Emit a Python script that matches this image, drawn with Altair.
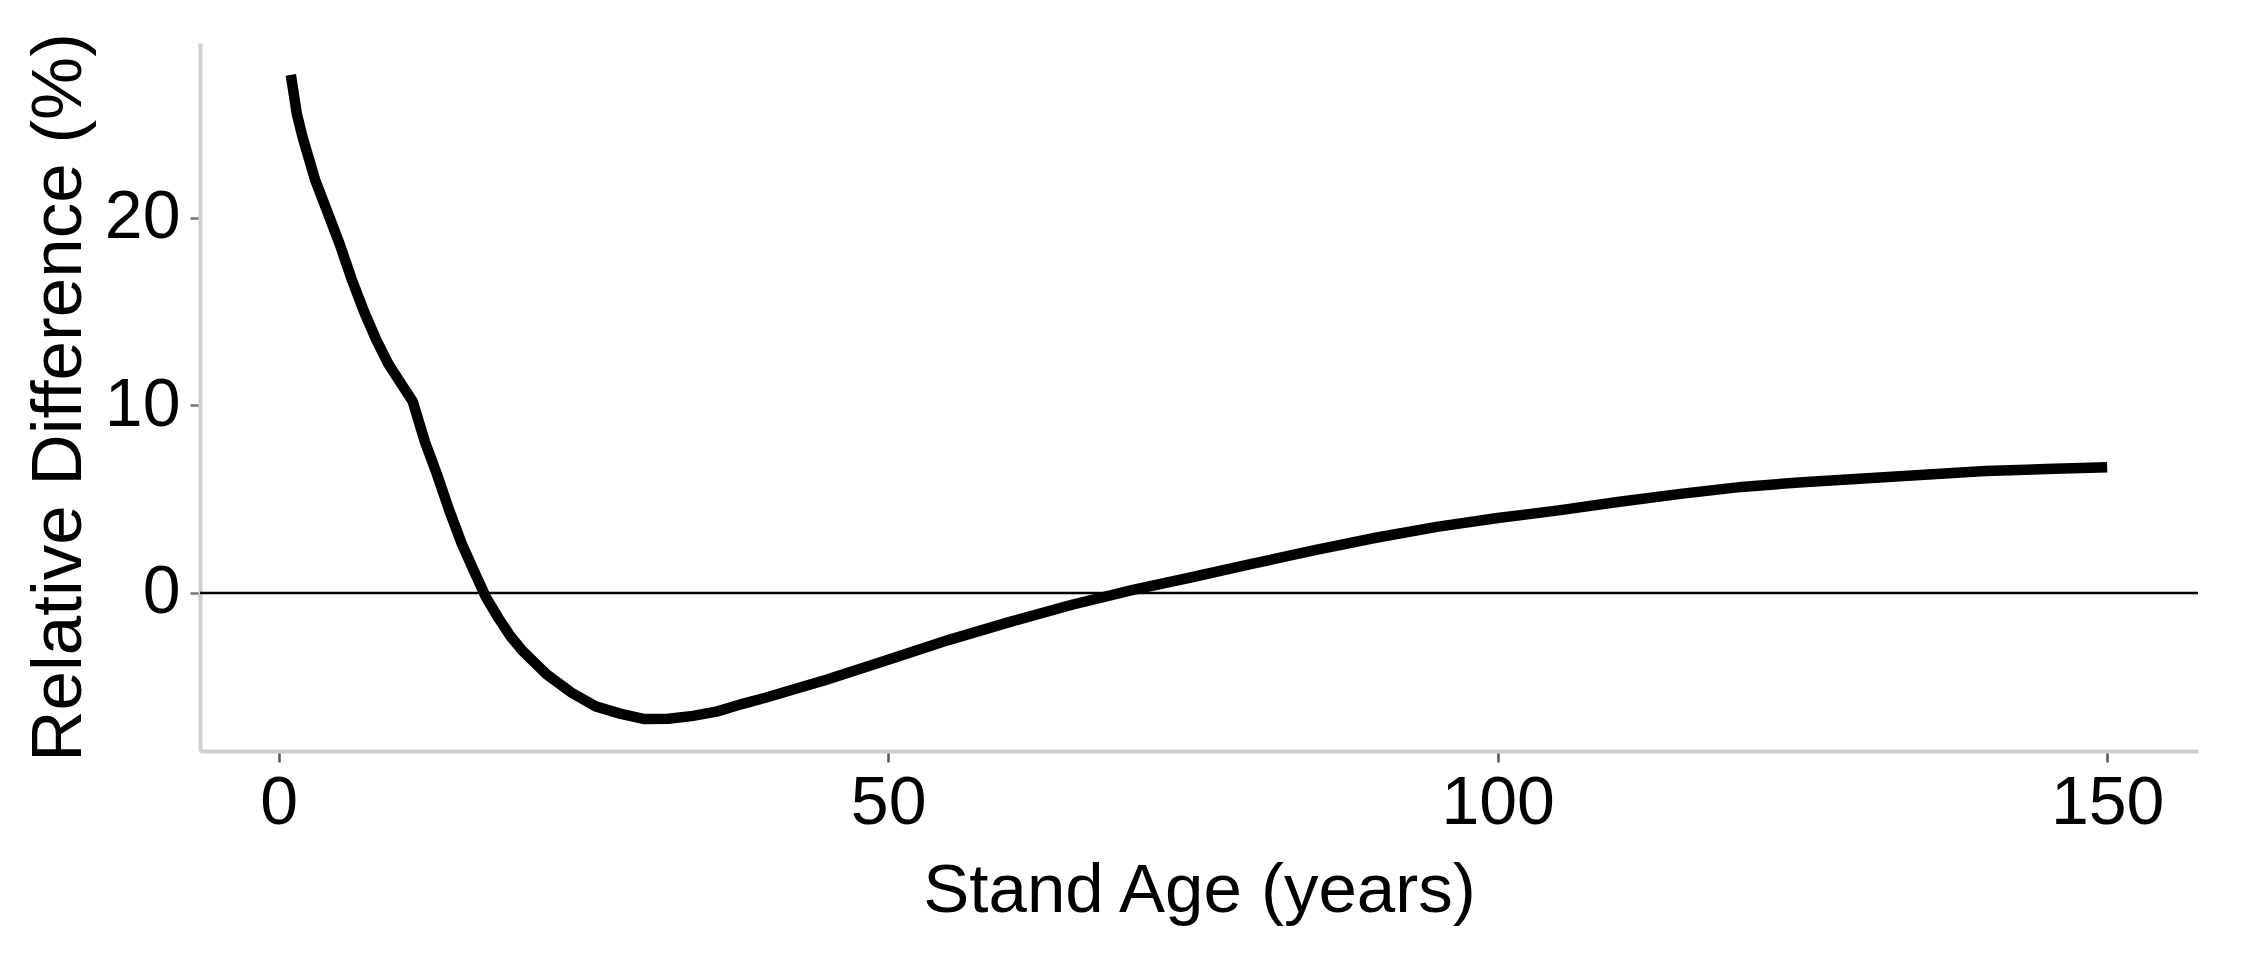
import altair as alt
import pandas as pd

# Stand age (years)
stand_age = [1, 1.5, 2, 3, 4, 5, 6, 7, 8, 9, 10, 11, 12, 13, 14, 15, 16, 17, 18, 19,
             20, 22, 24, 26, 28, 30, 32, 34, 36, 38, 40, 45, 50, 55, 60, 65, 70, 75,
             80, 85, 90, 95, 100, 105, 110, 115, 120, 125, 130, 135, 140, 145, 150]
# Relative difference (%)
rel_diff = [27.6, 25.5, 24.2, 22.0, 20.3, 18.6, 16.7, 15.0, 13.5, 12.2, 11.2, 10.2,
            8.05, 6.3, 4.4, 2.66, 1.2, -0.22, -1.31, -2.29, -3.08, -4.34, -5.3, -6.04,
            -6.43, -6.72, -6.7, -6.55, -6.31, -5.92, -5.57, -4.61, -3.56, -2.5, -1.54,
            -0.64, 0.15, 0.85, 1.57, 2.28, 2.94, 3.52, 3.99, 4.4, 4.86, 5.28, 5.65,
            5.9, 6.1, 6.3, 6.5, 6.6, 6.7]

x_ticks = [0, 50, 100, 150]
y_ticks = [0, 10, 20]
x_domain = [-6.45, 157.45]
y_domain = [-8.42, 29.3]
zero_ref = [0]

df = pd.DataFrame({"age": stand_age, "diff": rel_diff})
zero_df = pd.DataFrame({"y": zero_ref})

FONT = "Liberation Sans"

x_enc = alt.X(
    "age:Q",
    scale=alt.Scale(domain=x_domain, nice=False, zero=False),
    axis=alt.Axis(
        values=x_ticks,
        title="Stand Age (years)",
        titleFontSize=69,
        titleFont=FONT,
        titleFontWeight="normal",
        titleColor="#000000",
        titleBaseline="alphabetic",
        titleY=160,
        labelFontSize=68,
        labelFont=FONT,
        labelColor="#000000",
        labelPadding=7,
        tickSize=11,
        tickWidth=2.5,
        tickColor="#555555",
        domainColor="#cfcfcf",
        domainWidth=4,
        grid=False,
    ),
)

y_enc = alt.Y(
    "diff:Q",
    scale=alt.Scale(domain=y_domain, nice=False, zero=False),
    axis=alt.Axis(
        values=y_ticks,
        title="Relative Difference (%)",
        titleFontSize=71,
        titleFont=FONT,
        titleFontWeight="normal",
        titleColor="#000000",
        titleBaseline="alphabetic",
        titleAngle=-90,
        titleX=-120,
        titleY=354,
        labelFontSize=68,
        labelFont=FONT,
        labelColor="#000000",
        labelPadding=10,
        tickSize=10,
        tickWidth=2.5,
        tickColor="#777777",
        domainColor="#cfcfcf",
        domainWidth=4,
        grid=False,
    ),
)

zero_line = alt.Chart(zero_df).mark_rule(color="#000000", strokeWidth=2.5).encode(
    y=alt.Y("y:Q", scale=alt.Scale(domain=y_domain, nice=False, zero=False))
)

curve = alt.Chart(df).mark_line(color="#000000", strokeWidth=10.5, strokeCap="butt").encode(
    x=x_enc,
    y=y_enc,
)

chart = (
    alt.layer(curve, zero_line)
    .properties(
        width=1998,
        height=708,
        autosize=alt.AutoSizeParams(type="none"),
        padding={"left": 192, "top": 35, "right": 30, "bottom": 195},
        background="#ffffff",
    )
    .configure_view(stroke=None)
)

chart.save("out.html", embed_options={"renderer": "svg", "actions": False})
